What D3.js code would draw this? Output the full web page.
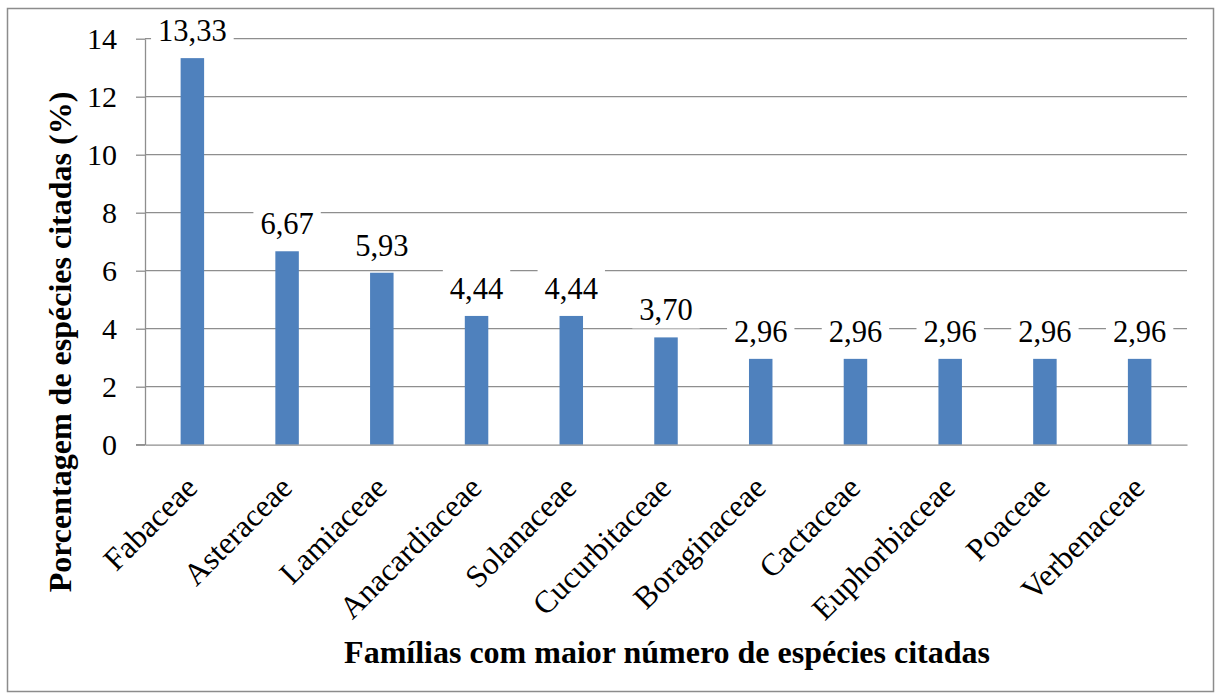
<!DOCTYPE html>
<html><head><meta charset="utf-8">
<script src="https://cdn.jsdelivr.net/npm/d3@7"></script>
<style>html,body{margin:0;padding:0;background:#fff}svg{display:block}</style>
</head><body><svg id="c" width="1216" height="697"></svg>
<script>
const categories = ["Fabaceae","Asteraceae","Lamiaceae","Anacardiaceae","Solanaceae","Cucurbitaceae","Boraginaceae","Cactaceae","Euphorbiaceae","Poaceae","Verbenaceae"];
const values = [13.33,6.67,5.93,4.44,4.44,3.70,2.96,2.96,2.96,2.96,2.96];
const labels = ["13,33","6,67","5,93","4,44","4,44","3,70","2,96","2,96","2,96","2,96","2,96"];
const yTicks = [0,2,4,6,8,10,12,14];
const yTitle = "Porcentagem de espécies citadas (%)";
const xTitle = "Famílias com maior número de espécies citadas";

const FONT = "'Liberation Serif', 'Times New Roman', serif";
const svg = d3.select("#c");
const pLeft = 145, pRight = 1187, pTop = 38.7, pBottom = 444.7;
const grid = "#8e8e8e";

svg.append("rect").attr("x",7.5).attr("y",8.5).attr("width",1206).attr("height",683)
  .attr("fill","#fff").attr("stroke","#8c8c8c").attr("stroke-width",1.5);

const x = d3.scaleBand().domain(categories).range([pLeft,pRight]).paddingInner(0.752).paddingOuter(0.376);
const y = d3.scaleLinear().domain([0,14]).range([pBottom,pTop]);

// gridlines + y axis
const yAxis = d3.axisLeft(y).tickValues(yTicks).tickSize(9).tickSizeOuter(0).tickPadding(19).tickFormat(d3.format("d"));
const gy = svg.append("g").attr("transform",`translate(${pLeft},0)`).call(yAxis);
gy.attr("font-family",null).attr("font-size",null);
gy.select(".domain").attr("stroke",grid).attr("stroke-width",1.3);
gy.selectAll(".tick line").attr("stroke",grid).attr("stroke-width",1.3);
gy.selectAll(".tick text").style("font-family",FONT).style("font-size","30px").attr("fill","#000").attr("dy","0.34em");

svg.append("g").selectAll("line").data(yTicks.filter(d=>d>0)).join("line")
  .attr("x1",pLeft).attr("x2",pRight).attr("y1",d=>y(d)).attr("y2",d=>y(d))
  .attr("stroke",grid).attr("stroke-width",1.3);

// bars
svg.append("g").selectAll("rect").data(values).join("rect")
  .attr("x",(d,i)=>x(categories[i])).attr("width",x.bandwidth())
  .attr("y",d=>y(d)).attr("height",d=>pBottom-y(d)).attr("fill","#4F81BD");

// x axis baseline
const xAxis = d3.axisBottom(x).tickSize(0).tickFormat("");
const gx = svg.append("g").attr("transform",`translate(0,${pBottom})`).call(xAxis);
gx.select(".domain").attr("stroke",grid).attr("stroke-width",1.3);
svg.append("line").attr("x1",136).attr("x2",pLeft).attr("y1",pBottom).attr("y2",pBottom).attr("stroke",grid).attr("stroke-width",1.3);

// value labels with white boxes
const lg = svg.append("g");
values.forEach((v,i)=>{
  const cx = x(categories[i]) + x.bandwidth()/2;
  const g = lg.append("g");
  const r = g.append("rect").attr("fill","#fff");
  const t = g.append("text").attr("x",cx).attr("y",y(v)-17).attr("text-anchor","middle")
    .style("font-family",FONT).style("font-size","30.5px").attr("fill","#000").text(labels[i]);
  const b = t.node().getBBox();
  r.attr("x",b.x-7).attr("y",b.y-3).attr("width",b.width+14).attr("height",b.height+4);
});

// category labels
svg.append("g").selectAll("text").data(categories).join("text")
  .attr("transform",d=>`translate(${x(d)+x.bandwidth()/2-1},${pBottom+37}) rotate(-45)`)
  .attr("text-anchor","end").style("font-family",FONT).style("font-size","31.5px").attr("fill","#000")
  .attr("dy","0.35em").text(d=>d);

// titles
svg.append("text").attr("transform",`translate(71,342) rotate(-90)`).attr("text-anchor","middle")
  .style("font-family",FONT).style("font-size","32px").style("font-weight","bold").attr("fill","#000").text(yTitle);
svg.append("text").attr("x",667).attr("y",663).attr("text-anchor","middle")
  .style("font-family",FONT).style("font-size","32px").style("font-weight","bold").attr("fill","#000").text(xTitle);
</script></body></html>
